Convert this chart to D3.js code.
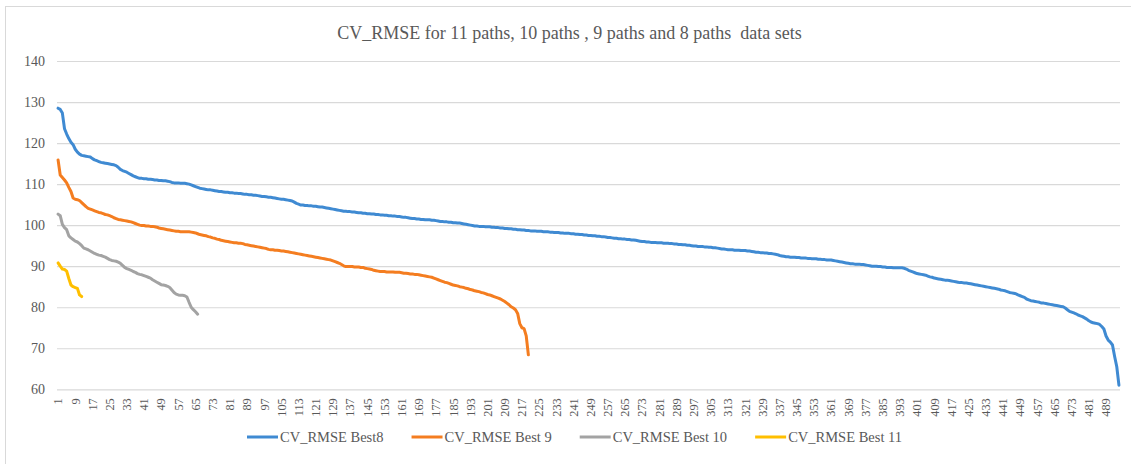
<!DOCTYPE html>
<html>
<head>
<meta charset="utf-8">
<script src="https://cdn.jsdelivr.net/npm/d3@7"></script>
<style>
  html, body { margin: 0; padding: 0; background: #fff; }
  svg { display: block; }
</style>
</head>
<body>
<svg id="chart" width="1131" height="464"></svg>
<script>
// CV_RMSE of the ranked models, one array per data set size
const best8 = [
  128.5, 128.2, 127.3, 123.5, 122.2, 121.1, 120.2, 119.6, 118.5, 117.8,
  117.3, 117.0, 116.9, 116.8, 116.7, 116.6, 116.2, 115.9, 115.7, 115.5,
  115.3, 115.2, 115.1, 115.0, 114.9, 114.8, 114.7, 114.5, 114.1, 113.6,
  113.3, 113.1, 112.9, 112.6, 112.3, 112.0, 111.8, 111.6, 111.4, 111.4,
  111.3, 111.3, 111.2, 111.2, 111.1, 111.0, 111.0, 110.9, 110.9, 110.8,
  110.8, 110.7, 110.6, 110.4, 110.3, 110.3, 110.3, 110.2, 110.2, 110.2,
  110.1, 110.0, 109.8, 109.6, 109.4, 109.2, 109.0, 108.9, 108.8, 108.7,
  108.6, 108.6, 108.5, 108.4, 108.3, 108.2, 108.2, 108.1, 108.0, 108.0,
  107.9, 107.9, 107.8, 107.8, 107.7, 107.7, 107.6, 107.5, 107.5, 107.4,
  107.4, 107.3, 107.3, 107.2, 107.1, 107.0, 107.0, 106.9, 106.8, 106.8,
  106.7, 106.6, 106.5, 106.4, 106.3, 106.3, 106.2, 106.1, 106.0, 105.9,
  105.6, 105.3, 105.1, 104.9, 104.9, 104.8, 104.8, 104.7, 104.7, 104.6,
  104.6, 104.5, 104.4, 104.4, 104.3, 104.2, 104.1, 104.0, 103.9, 103.8,
  103.7, 103.6, 103.5, 103.4, 103.4, 103.3, 103.3, 103.2, 103.2, 103.1,
  103.0, 103.0, 102.9, 102.9, 102.8, 102.8, 102.7, 102.7, 102.6, 102.6,
  102.5, 102.5, 102.4, 102.4, 102.3, 102.3, 102.2, 102.2, 102.1, 102.1,
  102.0, 101.9, 101.9, 101.8, 101.7, 101.6, 101.6, 101.5, 101.5, 101.4,
  101.4, 101.3, 101.3, 101.3, 101.2, 101.2, 101.1, 101.0, 100.9, 100.9,
  100.8, 100.8, 100.7, 100.7, 100.6, 100.6, 100.5, 100.5, 100.4, 100.3,
  100.2, 100.1, 100.0, 99.9, 99.8, 99.8, 99.7, 99.7, 99.7, 99.6,
  99.6, 99.6, 99.5, 99.5, 99.4, 99.4, 99.3, 99.3, 99.2, 99.2,
  99.1, 99.1, 99.0, 99.0, 98.9, 98.9, 98.8, 98.8, 98.7, 98.7,
  98.6, 98.6, 98.6, 98.5, 98.5, 98.5, 98.4, 98.4, 98.4, 98.3,
  98.3, 98.2, 98.2, 98.2, 98.1, 98.1, 98.0, 98.0, 98.0, 97.9,
  97.9, 97.8, 97.8, 97.7, 97.7, 97.6, 97.6, 97.5, 97.5, 97.4,
  97.4, 97.3, 97.3, 97.2, 97.2, 97.1, 97.0, 97.0, 96.9, 96.8,
  96.8, 96.7, 96.7, 96.6, 96.6, 96.5, 96.5, 96.4, 96.4, 96.3,
  96.2, 96.1, 96.0, 96.0, 95.9, 95.9, 95.8, 95.8, 95.8, 95.7,
  95.7, 95.7, 95.6, 95.6, 95.6, 95.5, 95.5, 95.4, 95.4, 95.3,
  95.3, 95.2, 95.2, 95.1, 95.1, 95.0, 94.9, 94.9, 94.8, 94.8,
  94.8, 94.7, 94.7, 94.6, 94.6, 94.5, 94.5, 94.4, 94.3, 94.2,
  94.2, 94.1, 94.0, 94.0, 94.0, 93.9, 93.9, 93.9, 93.8, 93.8,
  93.8, 93.7, 93.7, 93.6, 93.5, 93.4, 93.4, 93.3, 93.3, 93.2,
  93.2, 93.1, 93.1, 93.0, 92.9, 92.8, 92.6, 92.5, 92.4, 92.3,
  92.3, 92.2, 92.2, 92.2, 92.1, 92.1, 92.0, 92.0, 92.0, 91.9,
  91.9, 91.8, 91.8, 91.8, 91.7, 91.7, 91.6, 91.6, 91.5, 91.5,
  91.5, 91.4, 91.3, 91.2, 91.1, 91.0, 90.9, 90.8, 90.7, 90.6,
  90.6, 90.5, 90.5, 90.5, 90.4, 90.4, 90.3, 90.2, 90.1, 90.0,
  90.0, 90.0, 89.9, 89.9, 89.8, 89.8, 89.7, 89.7, 89.7, 89.6,
  89.6, 89.6, 89.6, 89.6, 89.5, 89.3, 89.0, 88.8, 88.6, 88.4,
  88.2, 88.1, 88.0, 87.9, 87.8, 87.6, 87.4, 87.3, 87.1, 87.0,
  86.9, 86.8, 86.7, 86.6, 86.6, 86.5, 86.4, 86.3, 86.2, 86.1,
  86.0, 86.0, 85.9, 85.9, 85.8, 85.7, 85.6, 85.5, 85.4, 85.3,
  85.2, 85.1, 85.0, 84.9, 84.8, 84.7, 84.6, 84.5, 84.4, 84.2,
  84.1, 84.0, 83.8, 83.6, 83.5, 83.4, 83.3, 83.0, 82.8, 82.6,
  82.4, 82.0, 81.8, 81.6, 81.5, 81.4, 81.3, 81.2, 81.0, 81.0,
  80.9, 80.8, 80.7, 80.6, 80.5, 80.4, 80.3, 80.2, 80.1, 79.8,
  79.4, 79.0, 78.8, 78.6, 78.4, 78.1, 77.9, 77.7, 77.4, 77.1,
  76.7, 76.4, 76.2, 76.1, 76.0, 75.8, 75.3, 74.7, 73.0, 72.0,
  71.5, 70.8, 68.0, 65.5, 61.0
];

const best9 = [
  115.9, 112.2, 111.6, 111.0, 110.3, 109.2, 108.2, 106.6, 106.3, 106.2,
  106.0, 105.5, 105.0, 104.5, 104.1, 103.9, 103.7, 103.5, 103.3, 103.1,
  103.0, 102.8, 102.6, 102.5, 102.3, 102.1, 101.8, 101.6, 101.4, 101.3,
  101.2, 101.1, 101.0, 100.9, 100.8, 100.6, 100.4, 100.2, 100.0, 99.9,
  99.9, 99.8, 99.8, 99.7, 99.7, 99.6, 99.5, 99.3, 99.2, 99.1,
  99.0, 98.9, 98.8, 98.7, 98.6, 98.5, 98.5, 98.4, 98.4, 98.4,
  98.4, 98.4, 98.3, 98.2, 98.1, 97.9, 97.7, 97.6, 97.5, 97.4,
  97.2, 97.1, 96.9, 96.8, 96.6, 96.5, 96.3, 96.2, 96.1, 96.0,
  95.9, 95.8, 95.7, 95.7, 95.6, 95.6, 95.5, 95.3, 95.2, 95.1,
  95.0, 94.9, 94.8, 94.7, 94.6, 94.5, 94.4, 94.3, 94.1, 94.0,
  94.0, 93.9, 93.9, 93.8, 93.7, 93.7, 93.6, 93.5, 93.4, 93.3,
  93.2, 93.1, 93.0, 92.9, 92.8, 92.7, 92.6, 92.5, 92.4, 92.3,
  92.2, 92.1, 92.0, 91.9, 91.8, 91.7, 91.6, 91.5, 91.3, 91.1,
  90.9, 90.7, 90.4, 90.1, 89.9, 89.9, 89.9, 89.9, 89.8, 89.8,
  89.8, 89.7, 89.7, 89.5, 89.4, 89.3, 89.2, 89.0, 88.9, 88.8,
  88.7, 88.7, 88.7, 88.6, 88.6, 88.6, 88.6, 88.5, 88.5, 88.5,
  88.4, 88.3, 88.3, 88.2, 88.1, 88.1, 88.0, 88.0, 87.9, 87.8,
  87.7, 87.6, 87.5, 87.4, 87.3, 87.1, 86.9, 86.7, 86.5, 86.3,
  86.1, 86.0, 85.8, 85.6, 85.4, 85.3, 85.2, 85.0, 84.9, 84.8,
  84.6, 84.5, 84.3, 84.2, 84.0, 83.9, 83.8, 83.6, 83.5, 83.3,
  83.1, 83.0, 82.8, 82.6, 82.4, 82.2, 82.0, 81.7, 81.4, 81.0,
  80.6, 80.1, 79.8, 79.4, 78.5, 76.0, 75.0, 74.8, 73.0, 68.4
];

const best10 = [
  102.7, 102.3, 100.2, 99.4, 98.9, 97.4, 96.9, 96.5, 96.1, 95.9,
  95.5, 95.0, 94.4, 94.2, 94.0, 93.7, 93.4, 93.1, 92.9, 92.7,
  92.6, 92.4, 92.2, 91.9, 91.6, 91.4, 91.3, 91.2, 91.0, 90.7,
  90.2, 89.7, 89.4, 89.2, 89.0, 88.7, 88.5, 88.2, 88.0, 87.9,
  87.7, 87.5, 87.3, 87.1, 86.7, 86.4, 86.1, 85.8, 85.5, 85.4,
  85.3, 85.1, 84.8, 84.2, 83.6, 83.2, 83.0, 82.9, 82.9, 82.8,
  82.5, 81.2, 80.0, 79.4, 78.9, 78.3
];

const best11 = [90.8, 90.0, 89.3, 89.2, 88.8, 87.0, 85.4, 85.0, 84.8, 84.6, 83.0, 82.6];

const seriesNames = ["CV_RMSE Best8", "CV_RMSE Best 9", "CV_RMSE Best 10", "CV_RMSE Best 11"];
const seriesColors = ["#3F8AD2", "#F47D20", "#A3A3A3", "#FFBF00"];
const yTicks = [60, 70, 80, 90, 100, 110, 120, 130, 140];
const titleText = "CV_RMSE for 11 paths, 10 paths , 9 paths and 8 paths  data sets";
const labelStep = 8;

const FONT = '"Liberation Serif", "Times New Roman", serif';
const TEXT_COLOR = "#595959";

const svg = d3.select("#chart");
const W = 1131, H = 464;
const plot = { left: 57, right: 1120, top: 61, bottom: 389.3 };

// chart area frame (runs past the right and bottom edges)
svg.append("rect")
  .attr("x", 5.5).attr("y", 6.5)
  .attr("width", W + 10).attr("height", H + 10)
  .attr("fill", "#fff").attr("stroke", "#d9d9d9").attr("stroke-width", 1);

const categories = d3.range(1, best8.length + 1);
const x = d3.scaleBand().domain(categories).range([plot.left, plot.right]).padding(0);
const cx = d => x(d) + x.bandwidth() / 2;
const y = d3.scaleLinear().domain([60, 140]).range([plot.bottom, plot.top]);

// horizontal gridlines
svg.append("g")
  .attr("transform", `translate(${plot.left},0)`)
  .call(d3.axisLeft(y).tickValues(yTicks).tickSize(-(plot.right - plot.left)).tickFormat(""))
  .call(g => g.select(".domain").remove())
  .call(g => g.selectAll("line").attr("stroke", "#d9d9d9").attr("stroke-width", 1.2));

// y labels
svg.append("g")
  .attr("transform", `translate(${plot.left},0)`)
  .call(d3.axisLeft(y).tickValues(yTicks).tickSize(0).tickPadding(12))
  .attr("font-family", FONT).attr("font-size", 14)
  .call(g => g.select(".domain").remove())
  .call(g => g.selectAll("text").attr("fill", TEXT_COLOR));

// x category labels, rotated
const xLabels = categories.filter(c => (c - 1) % labelStep === 0);
svg.append("g")
  .attr("transform", `translate(0,${plot.bottom})`)
  .call(d3.axisBottom(x).tickValues(xLabels).tickSize(0).tickPadding(0))
  .attr("font-family", FONT).attr("font-size", 12.3)
  .call(g => g.select(".domain").remove())
  .call(g => g.selectAll("text")
    .attr("fill", TEXT_COLOR)
    .attr("text-anchor", "end")
    .attr("transform", "rotate(-90)")
    .attr("x", -9).attr("y", 0).attr("dy", "0.35em"));

// series lines
const line = d3.line().x((d, i) => cx(i + 1)).y(d => y(d));
[best8, best9, best10, best11].forEach((s, k) => {
  svg.append("path")
    .datum(s)
    .attr("d", line)
    .attr("fill", "none")
    .attr("stroke", seriesColors[k])
    .attr("stroke-width", 3)
    .attr("stroke-linejoin", "round")
    .attr("stroke-linecap", "round");
});

// title
svg.append("text")
  .attr("x", 569.5).attr("y", 39)
  .attr("text-anchor", "middle")
  .attr("font-family", FONT).attr("font-size", 18)
  .attr("fill", TEXT_COLOR)
  .style("white-space", "pre")
  .text(titleText);

// legend
const legend = svg.append("g").attr("font-family", FONT).attr("font-size", 14.5);
const sample = 31, gapText = 2, gapItem = 28;
let lx = 0;
seriesNames.forEach((name, k) => {
  const g = legend.append("g");
  g.append("line").attr("x1", 0).attr("x2", sample).attr("y1", 0).attr("y2", 0)
    .attr("stroke", seriesColors[k]).attr("stroke-width", 3);
  const t = g.append("text").attr("x", sample + gapText).attr("y", 0).attr("dy", "0.33em")
    .attr("fill", TEXT_COLOR).text(name);
  const w = sample + gapText + t.node().getComputedTextLength();
  g.attr("transform", `translate(${lx},0)`);
  lx += w + gapItem;
});
const totalW = lx - gapItem;
legend.attr("transform", `translate(${574.5 - totalW / 2},437)`);
</script>
</body>
</html>
